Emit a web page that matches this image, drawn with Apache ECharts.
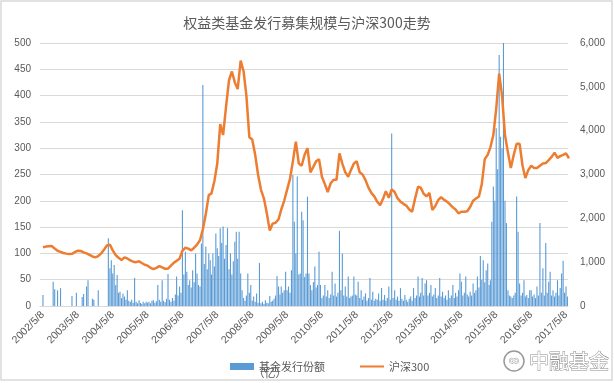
<!DOCTYPE html>
<html>
<head>
<meta charset="utf-8">
<script src="https://cdn.jsdelivr.net/npm/echarts@6/dist/echarts.min.js"></script>
<style>
html,body{margin:0;padding:0;background:#fff;}
#c{width:614px;height:383px;}
</style>
</head>
<body>
<div id="c"></div>
<script>
// ---- data ----
const titleText = '权益类基金发行募集规模与沪深300走势';
const tickLabels = ['2002/5/8','2003/5/8','2004/5/8','2005/5/8','2006/5/8','2007/5/8','2008/5/8','2009/5/8','2010/5/8','2011/5/8','2012/5/8','2013/5/8','2014/5/8','2015/5/8','2016/5/8','2017/5/8'];
const leftTicks = [0, 500, 50];
const rightTicks = [0, 6000, 1000];

// 基金发行份额（亿）: half-month slots (8th and 23rd of each month), each year May -> next April
const bars2002 = [21,0,0,0,0,0,0,46,32,0,30,0,34,0,0,0,0,0,0,0,19,0,0,25];
const bars2003 = [0,0,0,17,23,0,37,49,0,0,14,12,0,0,30,0,0,0,0,0,0,129,72,87];
const bars2004 = [62,78,40,59,25,27,15,24,18,12,30,10,8,12,6,53,8,5,11,6,4,8,5,8];
const bars2005 = [6,8,5,10,11,6,9,40,12,8,49,10,7,14,61,12,8,15,10,22,56,20,37,25];
const bars2006 = [182,60,103,65,40,49,35,68,45,100,62,40,37,119,420,80,113,70,100,87,60,100,75,138];
const bars2007 = [110,95,148,120,151,90,116,148,70,100,60,85,122,141,90,141,62,30,15,10,20,62,25,40];
const bars2008 = [10,18,8,24,6,82,5,8,4,11,6,5,19,8,10,14,20,57,37,22,37,25,30,65];
const bars2009 = [30,37,25,68,249,160,100,246,60,62,179,163,55,62,208,62,40,30,45,75,35,40,103,40];
const bars2010 = [15,20,40,18,30,15,22,65,20,43,18,25,143,30,100,20,37,18,56,15,18,20,56,22];
const bars2011 = [20,46,15,30,12,18,24,10,15,53,12,27,10,14,12,24,10,34,12,21,10,15,37,12];
const bars2012 = [328,15,30,12,18,10,34,14,10,21,12,8,14,18,10,34,15,20,56,18,25,53,20,43];
const bars2013 = [49,20,25,40,18,22,34,15,20,53,18,27,15,20,12,30,15,20,40,15,25,18,30,62];
const bars2014 = [46,20,25,56,22,18,27,20,43,25,30,56,35,95,50,87,45,68,81,40,49,160,227,200];
const bars2015 = [338,260,477,322,300,540,200,158,30,20,18,15,20,25,208,141,43,20,25,49,18,21,15,30];
const bars2016 = [30,18,22,15,37,20,158,25,72,20,120,25,46,65,20,30,18,25,49,20,34,62,86,25];
const bars2017 = [37,18];

// 沪深300: monthly points (8th of each month), from 2002-05
const hs2002 = [1340,1355,1365,1370,1310,1260,1235,1210,1195,1185,1190,1230];
const hs2003 = [1262,1255,1225,1200,1165,1130,1110,1140,1200,1290,1380,1400];
const hs2004 = [1270,1160,1100,1050,1110,1085,1040,1010,1000,1020,980,940];
const hs2005 = [920,870,840,870,910,880,850,850,920,990,1030,1080];
const hs2006 = [1260,1330,1310,1270,1330,1400,1500,1750,2100,2530,2570,2850];
const hs2007 = [3250,4150,3900,4550,5150,5350,5100,4950,5600,5350,4800,3850];
const hs2008 = [3800,3450,3000,2650,2450,2115,1720,1880,1900,1980,2200,2400];
const hs2009 = [2650,2900,3300,3750,3250,3200,3450,3600,3050,3180,3300,3350];
const hs2010 = [2950,2780,2600,2800,2880,2880,3480,3250,3050,2950,3100,3250];
const hs2011 = [3300,3050,3000,2870,2700,2580,2500,2380,2300,2450,2620,2470];
const hs2012 = [2660,2600,2460,2380,2330,2290,2200,2150,2450,2720,2700,2560];
const hs2013 = [2500,2580,2190,2280,2420,2480,2420,2380,2320,2250,2200,2115];
const hs2014 = [2150,2150,2160,2260,2400,2450,2500,2780,3350,3450,3620,3900];
const hs2015 = [4500,5300,4800,3900,3500,3150,3450,3700,3700,3200,2920,3100];
const hs2016 = [3200,3150,3150,3200,3250,3260,3330,3400,3500,3380,3420,3450];
const hs2017 = [3480,3370];

// ---- build ----
const DAY = 86400000;
const origin = Date.UTC(2002, 4, 8);
function dayOfLabel(s){ const p = s.split('/').map(Number); return Math.round((Date.UTC(p[0], p[1]-1, p[2]) - origin) / DAY); }
const tickDays = tickLabels.map(dayOfLabel);

const barValues = [].concat(bars2002,bars2003,bars2004,bars2005,bars2006,bars2007,bars2008,bars2009,bars2010,bars2011,bars2012,bars2013,bars2014,bars2015,bars2016,bars2017);
const barData = barValues.map((v, i) => {
  const t = Date.UTC(2002, 4 + Math.floor(i / 2), i % 2 ? 23 : 8);
  return [(t - origin) / DAY, v];
});
const lineValues = [].concat(hs2002,hs2003,hs2004,hs2005,hs2006,hs2007,hs2008,hs2009,hs2010,hs2011,hs2012,hs2013,hs2014,hs2015,hs2016,hs2017);
const lineData = lineValues.map((v, m) => [(Date.UTC(2002, 4 + m, 8) - origin) / DAY, v]);

const gray = '#595959';
const cjk = '"Noto Sans CJK SC", "Liberation Sans", sans-serif';
const barName = '基金发行份额（亿）';
const lineName = '沪深300';
// thin line legend icon inside a 24x7 box
const lineIcon = 'path://M0,0L24,0L24,0.01L0,0.01Z M0,2.5L24,2.5L24,4.5L0,4.5Z M0,6.99L24,6.99L24,7L0,7Z';

const chart = echarts.init(document.getElementById('c'), null, {renderer: 'canvas'});
chart.setOption({
  animation: false,
  backgroundColor: '#ffffff',
  textStyle: {fontFamily: cjk},
  title: {
    text: titleText, left: 'center', top: 11,
    textStyle: {fontSize: 14, fontWeight: 'normal', color: gray, fontFamily: cjk}
  },
  grid: {left: 40, right: 46, top: 43, bottom: 77, containLabel: false},
  legend: {
    left: 225, top: 356, itemWidth: 24, itemHeight: 7, itemGap: 35,
    textStyle: {fontSize: 11, color: gray, fontFamily: cjk},
    formatter: n => n === barName ? '基金发行份额' : n,
    data: [
      {name: barName, icon: 'rect'},
      {name: lineName, icon: lineIcon, itemStyle: {color: '#ED7D31', borderWidth: 0}}
    ]
  },
  xAxis: {
    type: 'value', min: -31, max: 5500,
    splitLine: {show: false},
    axisLine: {show: true, lineStyle: {color: '#D9D9D9'}},
    axisTick: {show: false},
    axisLabel: {
      customValues: tickDays,
      rotate: 45, margin: 7, color: gray, fontSize: 10.5,
      fontFamily: '"Liberation Sans", sans-serif',
      formatter: v => { const k = tickDays.indexOf(Math.round(v)); return k >= 0 ? tickLabels[k] : ''; }
    }
  },
  yAxis: [
    {
      type: 'value', min: leftTicks[0], max: leftTicks[1], interval: leftTicks[2],
      axisLine: {show: false}, axisTick: {show: false},
      splitLine: {lineStyle: {color: '#D9D9D9'}},
      axisLabel: {color: gray, fontSize: 10, margin: 9, fontFamily: '"Liberation Sans", sans-serif'}
    },
    {
      type: 'value', min: rightTicks[0], max: rightTicks[1], interval: rightTicks[2],
      axisLine: {show: false}, axisTick: {show: false},
      splitLine: {show: false},
      axisLabel: {
        color: gray, fontSize: 10, margin: 12, fontFamily: '"Liberation Sans", sans-serif',
        formatter: v => String(v).replace(/\B(?=(\d{3})+(?!\d))/g, ',')
      }
    }
  ],
  series: [
    {
      name: barName, type: 'bar', yAxisIndex: 0, data: barData,
      barWidth: 1.1, clip: true,
      itemStyle: {color: '#5B9BD5'}
    },
    {
      name: lineName, type: 'line', yAxisIndex: 1, data: lineData,
      symbol: 'none', showSymbol: false, z: 5,
      lineStyle: {color: '#ED7D31', width: 2.5},
      itemStyle: {color: '#ED7D31'}
    }
  ],
  graphic: [
    {type: 'rect', shape: {x: 1, y: 1, width: 611, height: 379}, style: {fill: 'none', stroke: '#D9D9D9', lineWidth: 1.5}, silent: true},
    {type: 'text', x: 270, y: 373, style: {text: '（亿）', fill: gray, font: '11px ' + cjk, textAlign: 'center', textVerticalAlign: 'middle'}},
    {type: 'circle', shape: {cx: 514, cy: 361, r: 10}, style: {fill: '#ffffff', stroke: '#999999', lineWidth: 1.5}},
    {type: 'text', x: 514, y: 361, style: {text: '∞', fill: '#ffffff', stroke: '#999999', lineWidth: 1, font: '14px "DejaVu Sans"', textAlign: 'center', textVerticalAlign: 'middle'}},
    {type: 'text', x: 529, y: 361, style: {text: '中融基金', fill: '#ffffff', stroke: '#8c8c8c', lineWidth: 1, font: '20px ' + cjk, textVerticalAlign: 'middle'}}
  ]
});
</script>
</body>
</html>
